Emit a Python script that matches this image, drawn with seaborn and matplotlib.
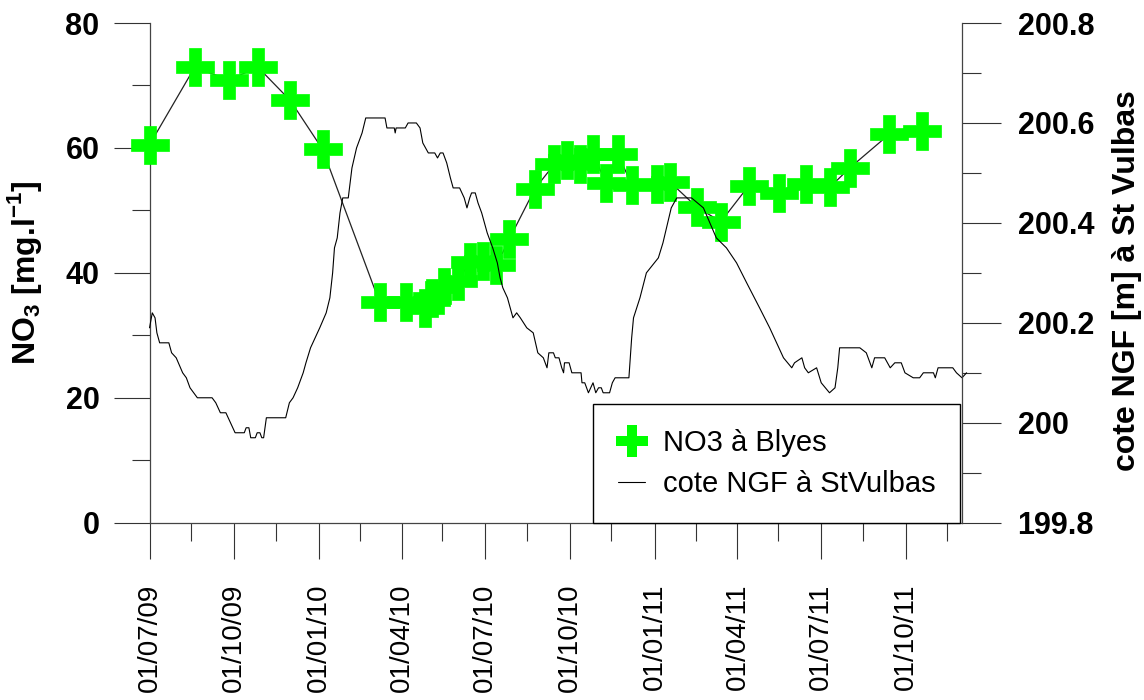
import matplotlib
matplotlib.use("Agg")
import matplotlib.pyplot as plt
import matplotlib.dates as mdates
from matplotlib.ticker import MultipleLocator, FuncFormatter
from matplotlib.lines import Line2D
import pandas as pd
import seaborn as sns

# Nitrate samples at Blyes (mg/l)
no3_dates = [
    "2009-07-01", "2009-08-19", "2009-09-25", "2009-10-27", "2009-12-01",
    "2010-01-05", "2010-03-08", "2010-04-06", "2010-04-26", "2010-05-04",
    "2010-05-17", "2010-06-01", "2010-06-14", "2010-06-28", "2010-07-13",
    "2010-07-27", "2010-08-24", "2010-09-14", "2010-09-28", "2010-10-12",
    "2010-10-26", "2010-11-09", "2010-11-22", "2010-12-07", "2011-01-04",
    "2011-01-18", "2011-02-16", "2011-03-14", "2011-04-13", "2011-05-16",
    "2011-06-14", "2011-07-11", "2011-08-01", "2011-09-13", "2011-10-18",
]
no3_values = [
    60.5, 72.9, 70.9, 72.9, 67.6,
    59.8, 35.3, 35.4, 34.3, 36.0,
    37.7, 38.7, 41.7, 41.9, 41.2,
    45.4, 53.5, 57.4, 58.1, 57.4,
    59.1, 54.4, 59.1, 54.1, 54.3,
    54.5, 50.5, 48.2, 53.9, 52.8,
    54.2, 53.8, 56.8, 62.2, 62.7,
]

# Water level (m NGF) at St Vulbas, day counted from 1 July 2009
ngf_day = [
    0, 3, 6, 8, 11, 21, 24, 29, 36, 40,
    44, 52, 68, 72, 77, 83, 88, 93, 103, 105,
    108, 110, 115, 117, 120, 122, 124, 127, 130, 148,
    152, 156, 161, 167, 170, 175, 180, 185, 192, 196,
    199, 201, 204, 207, 210, 216, 220, 225, 231, 235,
    256, 258, 266, 267, 268, 278, 281, 290, 294, 297,
    303, 310, 313, 316, 319, 323, 327, 330, 337, 342,
    345, 348, 350, 354, 357, 361, 367, 373, 378, 381,
    384, 389, 392, 395, 399, 403, 410, 417, 422, 428,
    432, 434, 439, 441, 445, 448, 450, 451, 456, 459,
    469, 470, 473, 477, 482, 485, 488, 491, 493, 500,
    503, 506, 521, 524, 526, 533, 540, 553, 558, 567,
    573, 589, 602, 616, 627, 638, 649, 663, 674, 689,
    698, 701, 709, 712, 716, 725, 730, 739, 745, 748,
    750, 754, 772, 779, 785, 788, 799, 805, 810, 817,
    821, 830, 837, 841, 852, 854, 857, 873, 877, 883,
    888,
]
ngf_level = [
    200.19, 200.22, 200.21, 200.18, 200.16, 200.16, 200.14, 200.13, 200.10, 200.09,
    200.07, 200.05, 200.05, 200.04, 200.02, 200.02, 200.00, 199.98, 199.98, 199.99,
    199.99, 199.97, 199.97, 199.98, 199.98, 199.97, 199.97, 200.01, 200.01, 200.01,
    200.04, 200.05, 200.07, 200.10, 200.12, 200.15, 200.17, 200.19, 200.22, 200.25,
    200.30, 200.35, 200.37, 200.42, 200.45, 200.45, 200.51, 200.55, 200.58, 200.61,
    200.61, 200.59, 200.59, 200.58, 200.59, 200.59, 200.60, 200.60, 200.59, 200.56,
    200.54, 200.54, 200.53, 200.54, 200.54, 200.52, 200.49, 200.47, 200.47, 200.45,
    200.43, 200.45, 200.46, 200.46, 200.44, 200.42, 200.38, 200.35, 200.32, 200.29,
    200.27, 200.25, 200.23, 200.21, 200.22, 200.21, 200.19, 200.18, 200.14, 200.13,
    200.11, 200.14, 200.14, 200.13, 200.13, 200.11, 200.10, 200.12, 200.12, 200.10,
    200.10, 200.08, 200.08, 200.06, 200.08, 200.06, 200.07, 200.07, 200.06, 200.06,
    200.08, 200.09, 200.09, 200.17, 200.21, 200.25, 200.30, 200.33, 200.36, 200.43,
    200.45, 200.45, 200.43, 200.37, 200.35, 200.32, 200.28, 200.23, 200.19, 200.13,
    200.11, 200.12, 200.13, 200.11, 200.10, 200.11, 200.08, 200.06, 200.07, 200.11,
    200.15, 200.15, 200.15, 200.14, 200.11, 200.13, 200.13, 200.11, 200.12, 200.12,
    200.10, 200.09, 200.09, 200.10, 200.10, 200.09, 200.11, 200.11, 200.10, 200.09,
    200.10,
]

x_start = "2009-07-01"
x_end = "2011-12-01"
no3_label = "NO3 à Blyes"
ngf_label = "cote NGF à StVulbas"
left_title = r"NO$_\mathbf{3}$ [mg.l$^\mathbf{-1}$]"
right_title = "cote NGF [m] à St Vulbas"

GREEN = "#00ff00"

sns.set_theme(style="ticks")
plt.rcParams["font.family"] = ["Liberation Sans", "DejaVu Sans"]
plt.rcParams["mathtext.fontset"] = "custom"
plt.rcParams["mathtext.rm"] = "Liberation Sans"
plt.rcParams["mathtext.bf"] = "Liberation Sans:bold"
for key in ("text.color", "axes.labelcolor", "xtick.color", "ytick.color",
            "xtick.labelcolor", "ytick.labelcolor"):
    plt.rcParams[key] = "black"

start = pd.Timestamp(x_start)
no3 = pd.DataFrame({"date": pd.to_datetime(no3_dates), "no3": no3_values})
ngf = pd.DataFrame({"date": start + pd.to_timedelta(ngf_day, unit="D"),
                    "level": ngf_level})

fig, ax = plt.subplots(figsize=(11.44, 7.0), dpi=100)
fig.subplots_adjust(left=0.1307, right=0.8409, bottom=0.2533, top=0.9671)

# nitrate: thin connecting line, then large green plus markers
sns.lineplot(data=no3, x="date", y="no3", ax=ax, color="#222222",
             linewidth=0.9, zorder=2)
sns.scatterplot(data=no3, x="date", y="no3", ax=ax, marker="P", s=27 ** 2,
                color=GREEN, edgecolor=GREEN, linewidth=0.5, zorder=3,
                legend=False, clip_on=False)

# water level on the right axis
ax2 = ax.twinx()
sns.lineplot(data=ngf, x="date", y="level", ax=ax2, color="black",
             linewidth=0.8, clip_on=False)

# x axis: quarters
ax.set_xlim(start, pd.Timestamp(x_end))
ax.xaxis.set_major_locator(mdates.MonthLocator(bymonth=[1, 4, 7, 10]))
ax.xaxis.set_major_formatter(mdates.DateFormatter("%d/%m/%y"))
ax.xaxis.set_minor_locator(mdates.MonthLocator(bymonth=[2, 5, 8, 11], bymonthday=15))
ax.tick_params(axis="x", which="major", length=26, width=0.8, pad=18,
               labelsize=20, labelrotation=90, color="#333333")
ax.tick_params(axis="x", which="minor", length=13, width=0.8, color="#333333")

# left axis: nitrate
ax.set_ylim(0, 80)
ax.yaxis.set_major_locator(MultipleLocator(20))
ax.yaxis.set_minor_locator(MultipleLocator(10))
ax.tick_params(axis="y", which="major", length=26, width=0.8, pad=10,
               labelsize=22, color="#333333")
ax.tick_params(axis="y", which="minor", length=13, width=0.8, color="#333333")

# right axis: level
ax2.set_ylim(199.8, 200.8)
ax2.yaxis.set_major_locator(MultipleLocator(0.2))
ax2.yaxis.set_minor_locator(MultipleLocator(0.1))
ax2.yaxis.set_major_formatter(
    FuncFormatter(lambda v, _: f"{v:.1f}".rstrip("0").rstrip(".")))
ax2.tick_params(axis="y", which="major", length=28, width=0.8, pad=12,
                labelsize=22, color="#333333")
ax2.tick_params(axis="y", which="minor", length=14, width=0.8, color="#333333")

plt.setp(ax.get_yticklabels(), fontweight="bold")
plt.setp(ax2.get_yticklabels(), fontweight="bold")

for s in ("top", "right"):
    ax.spines[s].set_visible(False)
for s in ("top", "left", "bottom"):
    ax2.spines[s].set_visible(False)
for sp in list(ax.spines.values()) + list(ax2.spines.values()):
    sp.set_color("#444444")
    sp.set_linewidth(0.9)

ax.set_xlabel("")
ax2.set_xlabel("")
ax.set_ylabel(left_title, fontsize=23, fontweight="bold")
ax.yaxis.label.set_verticalalignment("center")
ax.yaxis.set_label_coords(-0.1538, 0.5)
ax2.set_ylabel(right_title, fontsize=23, fontweight="bold")
ax2.yaxis.label.set_verticalalignment("center")
ax2.yaxis.set_label_coords(1.2035, 0.4837)

handles = [
    Line2D([], [], marker="P", linestyle="none", color=GREEN, markersize=23,
           markeredgewidth=0),
    Line2D([], [], color="black", linewidth=0.8),
]
leg = ax2.legend(handles, [no3_label, ngf_label], loc="lower right",
                 bbox_to_anchor=(0.998, 0.0), borderaxespad=0, fontsize=21,
                 frameon=True, fancybox=False, framealpha=1, edgecolor="black",
                 handlelength=0.95, handletextpad=0.6, borderpad=0.85,
                 labelspacing=0.45)
leg.get_frame().set_linewidth(1.0)

fig.savefig("out.png", dpi=100)
